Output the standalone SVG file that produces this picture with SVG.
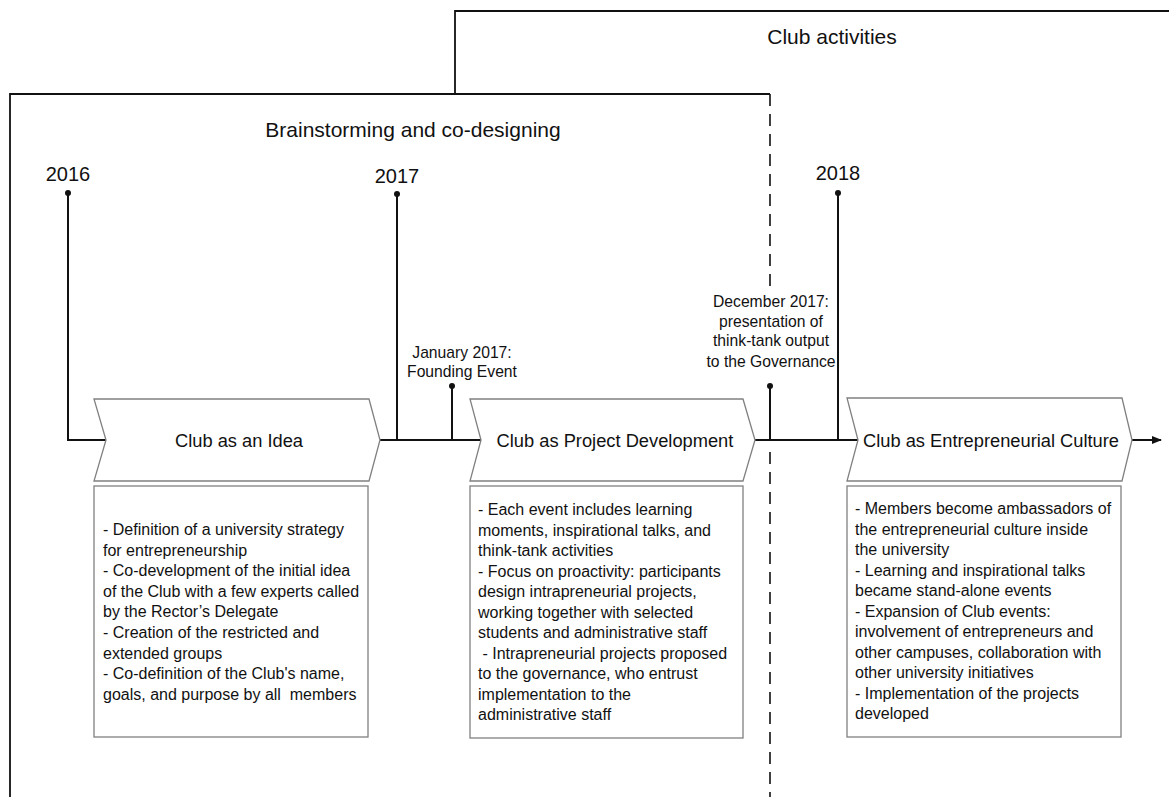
<svg xmlns="http://www.w3.org/2000/svg" width="1169" height="797" viewBox="0 0 1169 797">
<defs>
<style>
text{font-family:"Liberation Sans",Arial,sans-serif;fill:#111}
.frame{fill:none;stroke:#111;stroke-width:1.8}
.dash{fill:none;stroke:#111;stroke-width:1.6;stroke-dasharray:12 8}
.tl{fill:none;stroke:#111;stroke-width:2}
.chev{fill:#fff;stroke:#808080;stroke-width:1.3}
.box{fill:#fff;stroke:#808080;stroke-width:1.3}
.title{font-size:21px}
.year{font-size:20px}
.ev{font-size:15.7px}
.cl{font-size:18.3px}
.body{font-size:16px}
</style>
<marker id="arr" viewBox="0 0 10 10" refX="9" refY="5" markerWidth="12" markerHeight="10" markerUnits="userSpaceOnUse" orient="auto">
<path d="M0,1 L10,5 L0,9 Z" fill="#111"/>
</marker>
</defs>
<rect width="1169" height="797" fill="#fff"/>

<g id="club-activities">
<polyline class="frame" points="455,94 455,11 1169,11"/>
<text class="title" x="832" y="44" text-anchor="middle">Club activities</text>
</g>

<g id="brainstorming">
<polyline class="frame" points="10,797 10,94 770,94"/>
<line class="dash" x1="770" y1="94" x2="770" y2="290"/>
<line class="dash" x1="770" y1="452" x2="770" y2="797"/>
<text class="title" x="413" y="137" text-anchor="middle">Brainstorming and co-designing</text>
</g>

<g id="connectors">
<polyline class="tl" points="68,193 68,440 106,440"/>
<line class="tl" x1="380" y1="440" x2="481" y2="440"/>
<line class="tl" x1="397" y1="194" x2="397" y2="440"/>
<line class="tl" x1="452" y1="386" x2="452" y2="440"/>
<line class="tl" x1="755" y1="440" x2="858" y2="440"/>
<line class="tl" x1="770" y1="386" x2="770" y2="440"/>
<line class="tl" x1="838" y1="193" x2="838" y2="440"/>
<line class="tl" x1="1132" y1="440" x2="1161" y2="440" marker-end="url(#arr)"/>
<circle cx="68" cy="193" r="3" fill="#111"/>
<circle cx="397" cy="194" r="3" fill="#111"/>
<circle cx="452" cy="386" r="3" fill="#111"/>
<circle cx="770" cy="386" r="3" fill="#111"/>
<circle cx="838" cy="193" r="3" fill="#111"/>
</g>

<g id="year-2016"><text class="year" x="68" y="181" text-anchor="middle">2016</text></g>
<g id="year-2017"><text class="year" x="397" y="183" text-anchor="middle">2017</text></g>
<g id="year-2018"><text class="year" x="838" y="180" text-anchor="middle">2018</text></g>

<g id="event-jan-2017">
<text class="ev" text-anchor="middle"><tspan x="462" y="358">January 2017:</tspan><tspan x="462" y="377">Founding Event</tspan></text>
</g>

<g id="event-dec-2017">
<text class="ev" text-anchor="middle"><tspan x="771" y="307">December 2017:</tspan><tspan x="771" y="327">presentation of</tspan><tspan x="771" y="346">think-tank output</tspan><tspan x="771" y="367">to the Governance</tspan></text>
</g>

<g id="phase-idea">
<path class="chev" d="M94,399 L369,399 L380,440 L369,481 L94,481 L106,440 Z"/>
<text class="cl" x="239" y="447" text-anchor="middle">Club as an Idea</text>
</g>

<g id="phase-project">
<path class="chev" d="M470,399 L743,399 L755,440 L743,481 L470,481 L481,440 Z"/>
<text class="cl" x="615" y="447" text-anchor="middle">Club as Project Development</text>
</g>

<g id="phase-culture">
<path class="chev" d="M847,398 L1122,398 L1132,440 L1122,481 L847,481 L858,440 Z"/>
<text class="cl" x="991" y="447" text-anchor="middle">Club as Entrepreneurial Culture</text>
</g>

<g id="box-idea">
<rect class="box" x="94" y="486" width="274" height="251"/>
<text class="body" xml:space="preserve"><tspan x="103" y="535">- Definition of a university strategy</tspan><tspan x="103" y="555.6">for entrepreneurship</tspan><tspan x="103" y="576.2">- Co-development of the initial idea</tspan><tspan x="103" y="596.8">of the Club with a few experts called</tspan><tspan x="103" y="617.4">by the Rector’s Delegate</tspan><tspan x="103" y="638">- Creation of the restricted and</tspan><tspan x="103" y="658.6">extended groups</tspan><tspan x="103" y="679.2">- Co-definition of the Club's name,</tspan><tspan x="103" y="699.8">goals, and purpose by all  members</tspan></text>
</g>

<g id="box-project">
<rect class="box" x="470" y="486" width="273" height="252"/>
<text class="body" xml:space="preserve"><tspan x="478" y="515">- Each event includes learning</tspan><tspan x="478" y="535.5">moments, inspirational talks, and</tspan><tspan x="478" y="556">think-tank activities</tspan><tspan x="478" y="576.5">- Focus on proactivity: participants</tspan><tspan x="478" y="597">design intrapreneurial projects,</tspan><tspan x="478" y="617.5">working together with selected</tspan><tspan x="478" y="638">students and administrative staff</tspan><tspan x="478" y="658.5"> - Intrapreneurial projects proposed</tspan><tspan x="478" y="679">to the governance, who entrust</tspan><tspan x="478" y="699.5">implementation to the</tspan><tspan x="478" y="720">administrative staff</tspan></text>
</g>

<g id="box-culture">
<rect class="box" x="847" y="486" width="274" height="251"/>
<text class="body" xml:space="preserve"><tspan x="855" y="514">- Members become ambassadors of</tspan><tspan x="855" y="534.5">the entrepreneurial culture inside</tspan><tspan x="855" y="555">the university</tspan><tspan x="855" y="575.5">- Learning and inspirational talks</tspan><tspan x="855" y="596">became stand-alone events</tspan><tspan x="855" y="616.5">- Expansion of Club events:</tspan><tspan x="855" y="637">involvement of entrepreneurs and</tspan><tspan x="855" y="657.5">other campuses, collaboration with</tspan><tspan x="855" y="678">other university initiatives</tspan><tspan x="855" y="698.5">- Implementation of the projects</tspan><tspan x="855" y="719">developed</tspan></text>
</g>
</svg>
